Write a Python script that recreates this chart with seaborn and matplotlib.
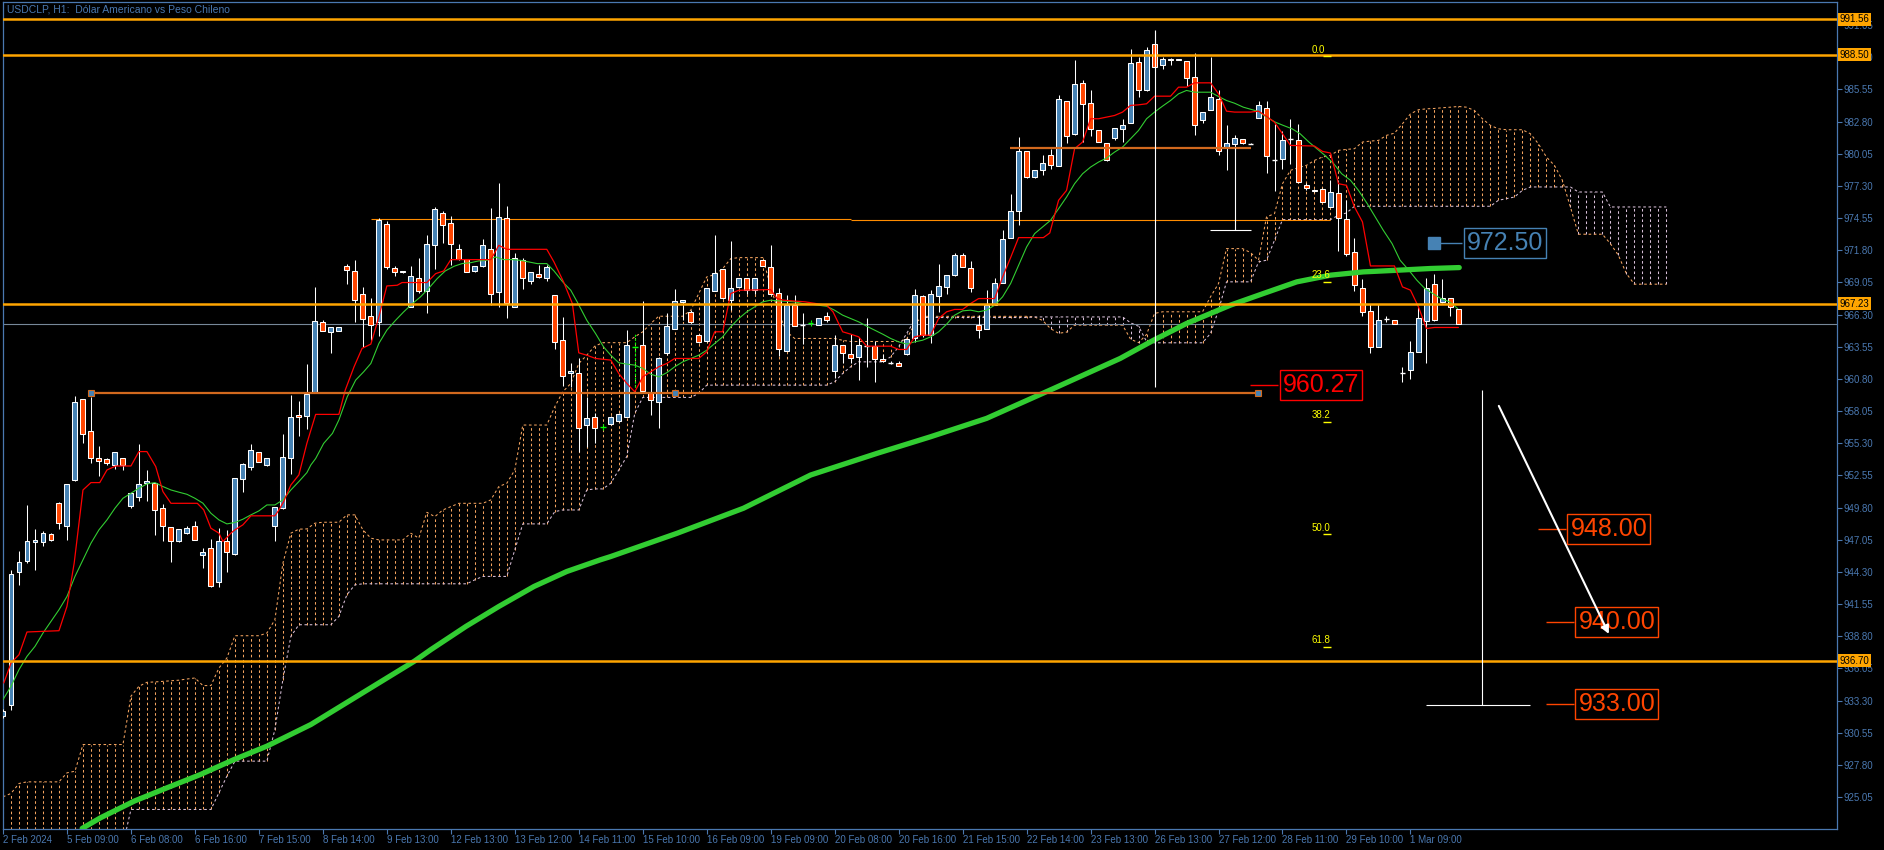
import numpy as np
import matplotlib
matplotlib.use('Agg')
import matplotlib.pyplot as plt
import seaborn as sns
from matplotlib.patches import Rectangle

# ---------------------------------------------------------
# DATA  (USDCLP H1, bar index 0 = 2 Feb 2024)
# ---------------------------------------------------------
opens = [932.0, 932.9, 944.29, 945.2, 946.85, 946.85, 947.53, 950.17, 948.27, 952.14,
         959.05, 956.35, 954.02, 953.93, 953.48, 954.02, 949.98, 950.74, 951.94, 951.94,
         949.81, 948.18, 946.93, 947.6, 948.27, 945.71, 946.33, 943.43, 946.99, 945.82,
         952.22, 953.31, 954.53, 953.48, 948.27, 949.81, 954.02, 957.69, 957.66, 959.65,
         965.68, 964.77, 964.94, 970.49, 970.06, 968.1, 966.22, 965.68, 974.07, 970.32,
         969.9, 966.96, 969.46, 968.35, 972.28, 975.01, 974.16, 971.94, 971.08, 970.03,
         970.46, 971.94, 968.27, 974.53, 966.99, 971.0, 969.21, 969.8, 969.46, 968.01,
         964.17, 961.27, 961.35, 956.83, 957.51, 956.69, 956.94, 957.23, 957.51, 963.55,
         963.74, 959.56, 958.8, 962.98, 965.11, 967.39, 966.48, 964.54, 964.06, 968.35,
         970.23, 967.59, 968.67, 969.46, 968.38, 971.0, 970.37, 968.15, 963.23, 967.16,
         965.43, 965.54, 965.45, 966.16, 961.5, 963.74, 962.95, 962.69, 963.6, 963.63,
         962.52, 962.2, 962.15, 962.89, 964.31, 967.93, 964.54, 967.87, 968.67, 969.67,
         971.43, 970.32, 965.4, 965.03, 967.16, 968.96, 972.88, 975.16, 980.25, 978.06,
         978.63, 979.96, 979.0, 984.52, 981.76, 986.11, 984.4, 982.1, 980.99, 981.42,
         982.18, 982.7, 987.93, 985.46, 989.44, 987.65, 988.16, 988.16, 987.99, 986.59,
         982.9, 983.75, 984.69, 980.62, 980.85, 981.27, 980.92, 983.12, 983.98, 979.48,
         979.62, 981.27, 981.19, 977.4, 976.98, 977.0, 975.5, 976.72, 974.5, 971.66,
         968.61, 966.59, 963.49, 965.91, 965.83, 961.27, 961.56, 963.12, 965.77, 968.9,
         967.39, 967.76, 966.82]
highs = [932.6, 944.43, 946.11, 950.03, 948.01, 947.76, 947.6, 950.32, 951.8, 959.34,
         959.05, 959.28, 955.07, 954.02, 954.59, 954.02, 951.06, 955.21, 953.02, 951.94,
         950.12, 948.18, 948.01, 948.24, 948.67, 946.33, 947.1, 948.04, 947.9, 952.31,
         953.59, 955.21, 954.53, 954.02, 949.84, 956.1, 959.42, 958.94, 962.07, 968.67,
         965.88, 965.2, 965.25, 970.66, 971.0, 968.67, 967.7, 974.55, 974.27, 970.43,
         970.06, 970.49, 971.17, 973.08, 975.49, 975.12, 974.75, 972.36, 971.08, 970.49,
         972.79, 975.44, 977.57, 975.55, 971.6, 971.17, 969.97, 970.52, 970.52, 968.01,
         966.1, 962.12, 962.55, 959.28, 957.86, 957.0, 957.6, 957.86, 964.97, 964.63,
         967.44, 961.55, 962.69, 966.45, 968.47, 967.5, 966.68, 964.68, 968.61, 973.08,
         970.23, 972.56, 969.46, 969.46, 969.46, 971.0, 972.28, 968.61, 968.01, 968.01,
         966.45, 965.8, 966.05, 966.48, 964.54, 963.74, 964.6, 964.4, 966.02, 964.03,
         962.89, 962.3, 962.32, 964.2, 968.47, 968.01, 968.39, 970.6, 969.67, 971.6,
         971.6, 970.89, 966.25, 968.44, 969.47, 973.51, 976.58, 981.47, 980.25, 978.68,
         979.96, 980.42, 985.11, 984.6, 988.1, 986.37, 985.54, 982.1, 981.0, 982.27,
         982.98, 989.01, 988.3, 989.21, 990.58, 988.3, 988.24, 988.16, 987.99, 988.64,
         983.61, 988.3, 985.54, 982.53, 981.62, 981.27, 980.99, 984.55, 984.55, 982.61,
         981.96, 983.04, 982.61, 977.55, 977.0, 977.15, 977.78, 977.78, 976.07, 972.88,
         969.38, 967.19, 967.19, 966.2, 965.83, 961.84, 964.03, 966.96, 969.47, 969.81,
         969.33, 967.76, 966.82]
lows = [931.8, 932.48, 943.21, 945.05, 944.49, 946.48, 946.95, 947.99, 947.05, 952.1,
        955.3, 953.59, 952.54, 953.45, 953.08, 953.02, 949.81, 950.4, 950.4, 947.42,
        946.99, 945.11, 946.9, 947.56, 947.0, 944.63, 942.98, 942.98, 944.29, 945.71,
        951.12, 953.02, 953.68, 953.39, 946.99, 949.69, 952.68, 955.95, 956.52, 959.6,
        964.9, 962.98, 964.9, 968.95, 965.68, 963.54, 964.11, 964.48, 970.2, 969.58,
        969.84, 966.96, 968.15, 966.45, 970.2, 972.42, 970.52, 970.94, 969.92, 969.92,
        970.4, 967.13, 966.96, 966.02, 966.99, 968.5, 968.92, 969.43, 969.21, 963.32,
        960.19, 960.13, 954.58, 955.01, 955.3, 956.4, 956.83, 957.14, 957.51, 960.13,
        959.79, 957.71, 956.57, 962.86, 965.11, 965.82, 965.59, 963.83, 963.97, 968.35,
        967.67, 966.67, 968.61, 968.1, 968.1, 970.43, 967.95, 962.78, 963.23, 965.31,
        963.77, 965.3, 965.45, 965.68, 960.9, 962.12, 962.12, 960.7, 961.84, 960.56,
        962.26, 962.1, 961.87, 962.83, 963.94, 964.4, 963.83, 966.54, 968.1, 969.58,
        970.38, 968.24, 964.26, 965.03, 967.16, 968.96, 972.88, 973.99, 977.97, 977.97,
        978.2, 978.71, 979.0, 980.96, 981.62, 981.05, 981.56, 981.05, 979.45, 981.25,
        981.05, 982.7, 984.89, 985.37, 987.5, 987.3, 987.65, 988.02, 985.88, 981.62,
        982.67, 983.75, 979.91, 978.66, 980.6, 980.9, 980.85, 983.12, 978.4, 976.86,
        978.77, 979.2, 977.63, 976.92, 976.8, 975.93, 975.5, 971.74, 971.29, 968.33,
        966.2, 963.04, 963.49, 965.63, 965.46, 960.56, 960.76, 963.12, 962.18, 965.77,
        967.3, 966.2, 965.48]
closes = [932.4, 944.12, 945.14, 946.93, 947.02, 947.6, 947.02, 948.47, 951.8, 958.8,
          956.07, 954.07, 953.79, 953.59, 954.53, 953.48, 951.06, 951.8, 952.11, 949.58,
          948.27, 946.93, 948.01, 948.04, 947.02, 945.99, 943.06, 946.93, 945.99, 952.31,
          953.53, 954.73, 953.73, 954.02, 949.84, 954.16, 957.57, 957.52, 959.51, 965.76,
          964.94, 965.2, 965.2, 970.15, 967.58, 965.96, 965.37, 974.35, 970.37, 969.95,
          970.0, 969.63, 968.35, 972.36, 975.35, 973.99, 972.36, 971.03, 969.97, 970.49,
          972.28, 968.1, 974.64, 967.3, 971.17, 969.43, 969.97, 969.55, 970.4, 963.97,
          961.07, 961.52, 956.63, 957.43, 956.63, 956.69, 957.51, 957.77, 963.66, 963.55,
          959.79, 959.0, 962.55, 965.31, 967.5, 967.5, 965.68, 963.97, 968.61, 969.89,
          967.76, 968.61, 969.46, 968.38, 969.46, 970.43, 968.1, 963.32, 967.16, 965.31,
          965.43, 965.54, 966.05, 965.82, 963.74, 962.98, 962.55, 963.69, 963.6, 962.49,
          962.32, 962.2, 961.87, 964.2, 968.01, 964.54, 968.04, 968.73, 969.67, 971.37,
          970.38, 968.59, 964.97, 967.16, 969.04, 972.8, 975.16, 980.25, 978.06, 978.68,
          979.28, 979.11, 984.74, 981.56, 986.02, 984.32, 982.18, 981.05, 979.54, 982.27,
          982.53, 987.82, 985.51, 988.93, 987.5, 988.16, 988.02, 988.02, 986.54, 982.53,
          983.61, 984.89, 980.25, 980.96, 981.42, 980.99, 980.92, 984.18, 979.85, 979.48,
          981.25, 981.27, 977.63, 977.15, 976.84, 975.93, 976.81, 974.59, 971.52, 968.81,
          966.54, 963.55, 965.83, 965.91, 965.46, 961.27, 963.07, 965.97, 968.61, 965.83,
          967.76, 966.96, 965.48]
green_doji = [75, 79, 101]

# Ichimoku cloud (shifted 26 bars forward)
span_a = [925.08, 925.37, 926.22, 926.36, 926.36, 926.36, 926.36, 926.36, 927.13, 927.27,
          929.55, 929.55, 929.55, 929.55, 929.55, 929.55, 933.68, 934.53, 934.87, 934.90,
          934.95, 935.00, 935.05, 935.15, 935.24, 934.59, 934.59, 936.09, 936.95, 938.85,
          938.85, 938.85, 938.85, 939.08, 940.22, 945.05, 947.62, 947.96, 947.98, 948.47,
          948.55, 948.55, 948.55, 949.18, 949.18, 947.90, 947.19, 947.04, 947.04, 947.04,
          947.04, 947.61, 947.19, 949.40, 949.03, 949.60, 949.89, 950.17, 950.17, 950.17,
          950.17, 950.46, 951.60, 951.88, 953.02, 956.86, 956.86, 956.86, 956.86, 958.42,
          959.70, 960.41, 962.12, 962.83, 963.60, 963.90, 963.90, 963.90, 963.90, 964.40,
          964.83, 965.54, 966.16, 966.16, 966.16, 966.16, 966.67, 968.10, 969.52, 969.72,
          970.23, 971.08, 971.17, 971.17, 971.17, 971.17, 968.67, 966.39, 964.83, 964.26,
          964.26, 964.26, 964.26, 964.26, 964.26, 964.10, 964.00, 964.00, 964.00, 964.00,
          964.00, 964.00, 964.00, 964.20, 965.50, 966.15, 966.15, 966.15, 966.15, 966.15,
          966.15, 966.15, 966.15, 966.15, 966.15, 966.15, 966.15, 966.15, 966.15, 966.10,
          965.80, 965.10, 964.70, 964.80, 965.40, 965.40, 965.40, 965.40, 965.40, 965.40,
          965.40, 964.20, 963.90, 964.60, 966.40, 966.54, 966.54, 966.54, 966.54, 966.54,
          966.54, 967.82, 968.95, 971.94, 971.94, 971.94, 971.60, 970.95, 974.65, 974.93,
          977.49, 978.63, 978.86, 979.06, 979.48, 979.77, 979.91, 980.34, 980.42, 980.48,
          981.05, 981.13, 981.19, 981.62, 981.81, 982.61, 983.46, 983.81, 983.89, 983.92,
          983.98, 984.03, 984.09, 984.03, 983.75, 983.04, 982.47, 982.18, 982.10, 982.10,
          982.10, 981.76, 980.90, 979.77, 979.06, 977.78, 975.50, 973.17, 973.17, 973.17,
          973.17, 972.37, 971.37, 969.81, 968.90, 968.90, 968.90, 968.90, 968.90]
span_b = [921.00, 921.00, 921.00, 921.00, 921.00, 921.00, 921.00, 921.00, 921.00, 921.00,
          921.00, 921.00, 921.00, 921.00, 921.00, 921.00, 924.00, 924.00, 924.00, 924.00,
          924.00, 924.00, 924.00, 924.00, 924.00, 924.00, 924.00, 925.42, 926.85, 928.13,
          928.13, 928.13, 928.13, 928.13, 930.83, 935.10, 938.80, 939.79, 939.79, 939.79,
          939.79, 939.79, 940.50, 942.35, 943.20, 943.29, 943.29, 943.29, 943.29, 943.29,
          943.29, 943.29, 943.29, 943.29, 943.29, 943.29, 943.29, 943.29, 943.29, 943.63,
          943.92, 943.92, 943.92, 943.92, 946.19, 948.41, 948.41, 948.41, 948.41, 949.46,
          949.60, 949.60, 949.60, 951.31, 951.40, 951.40, 951.88, 953.02, 954.16, 957.85,
          959.22, 959.22, 959.22, 959.22, 959.22, 959.22, 959.22, 959.56, 960.27, 960.27,
          960.27, 960.27, 960.27, 960.27, 960.27, 960.27, 960.27, 960.27, 960.27, 960.27,
          960.27, 960.27, 960.27, 960.27, 960.56, 961.27, 961.84, 962.26, 962.26, 962.26,
          962.26, 962.69, 963.55, 964.69, 965.82, 966.05, 966.05, 966.05, 966.05, 966.05,
          966.05, 966.05, 966.05, 966.05, 966.05, 966.05, 966.05, 966.05, 966.05, 966.10,
          966.10, 966.10, 966.10, 966.10, 966.10, 966.10, 966.10, 966.10, 966.10, 966.10,
          966.10, 965.60, 965.30, 964.00, 963.89, 963.89, 963.89, 963.89, 963.89, 963.89,
          963.89, 964.69, 966.68, 969.10, 969.10, 969.10, 969.10, 970.80, 970.95, 972.65,
          974.42, 974.42, 974.42, 974.42, 974.42, 974.42, 974.42, 974.79, 974.99, 975.56,
          975.56, 975.56, 975.56, 975.56, 975.56, 975.56, 975.56, 975.56, 975.56, 975.56,
          975.56, 975.56, 975.56, 975.56, 975.56, 975.56, 975.56, 976.07, 976.21, 976.35,
          976.92, 977.21, 977.21, 977.21, 977.21, 977.21, 977.21, 976.78, 976.78, 976.78,
          976.78, 975.50, 975.50, 975.50, 975.50, 975.50, 975.50, 975.50, 975.50]

# Tenkan-sen (red), read at its corners
tenkan_x = [0.1, 1, 2, 3, 7, 8, 8.9, 10, 11, 12.1, 13, 14.1, 16, 17, 18, 19.1, 20, 21, 24.3, 25.1,
            26, 27, 27.5, 28.5, 29, 30, 31, 34, 34.5, 35.1, 36, 37, 38, 39.1, 42, 42.8, 43.9, 44.9,
            46, 47, 48, 49.3, 49.9, 53, 54.1, 55.1, 56, 61, 62, 63, 68, 68.9, 70.1, 71.2, 72, 73,
            74.1, 76, 77, 78, 79, 80, 81, 82, 83, 84, 87, 88, 89, 90, 91, 92, 96, 96.8, 97.6,
            100.3, 103, 103.8, 105, 106, 107, 108, 111, 112, 113, 114, 115, 116, 117, 118, 119,
            120, 121, 122, 124, 125, 126, 127, 130.1, 130.9, 132, 133, 134, 135, 136, 137, 138,
            139, 140, 141, 142, 143, 144, 146, 147, 148, 149, 151, 152, 153, 154, 156, 157, 158,
            159, 160, 161, 164, 165, 166, 167, 168, 169, 170, 171, 174, 175, 176, 177, 178, 179, 182]
tenkan_y = [934.81, 936.52, 937.23, 939.17, 939.28, 941.36, 945.05, 951.31, 951.94, 951.94,
            953.02, 953.36, 953.36, 954.59, 954.59, 953.31, 951.17, 950.17, 950.17, 949.61,
            948.04, 947.62, 946.9, 947.62, 947.9, 948.33, 949.1, 949.1, 949.6, 950.32, 951.74,
            952.6, 955.3, 957.77, 957.77, 959.85, 961.84, 963.41, 963.78, 966.1, 968.75, 968.81,
            969.04, 969.04, 969.8, 970.03, 971.0, 971.0, 972.22, 971.88, 971.88, 970.8, 969.09,
            967.24, 963.03, 962.83, 962.55, 962.41, 961.27, 960.42, 959.7, 960.98, 961.41,
            961.84, 962.12, 962.55, 962.55, 963.12, 964.83, 964.83, 968.1, 968.38, 968.44,
            967.67, 967.53, 967.39, 967.1, 966.53, 964.83, 964.63, 964.4, 963.6, 963.6, 963.32,
            963.32, 964.4, 964.54, 964.54, 965.97, 966.54, 966.74, 966.74, 967.25, 967.67,
            967.67, 969.52, 971.17, 972.88, 972.88, 973.28, 976.07, 976.92, 980.48, 981.05,
            983.04, 983.04, 983.18, 983.32, 983.61, 984.18, 984.23, 984.32, 984.97, 984.97,
            985.74, 985.74, 986.11, 986.11, 985.17, 983.69, 983.61, 983.61, 983.69, 983.24,
            982.75, 981.76, 980.76, 980.71, 980.25, 980.11, 977.49, 977.35, 975.5, 974.22,
            970.46, 970.46, 968.67, 968.39, 966.96, 965.11, 965.2, 965.2]

# fast moving average (thin green)
ma_x = list(range(39)) + [38.5, 39.1, 40.1, 41.2, 42.0, 43.05, 44.1, 45.1, 46.0, 47.0, 48.0,
        49.1, 50.1, 51.2, 52.2, 53.2, 54.3, 55.3, 56.4, 57.4, 58.5, 59.5, 60.5, 61.6, 62.6,
        63.7, 64.7, 65.75, 66.8, 68.0, 68.9, 70.0, 71.0, 71.8, 73.0, 74.1, 75.1] \
    + list(range(76, 155)) + [155.1, 157, 158, 159.1, 160.1, 161.2, 162.2, 163.3, 164.3, 165.3,
        166.4, 167.4, 168.5, 169.5, 170.6, 171.6, 172.6, 173.7, 174.7, 175.8, 176.8, 177.8,
        178.8, 179.8, 180.9, 181.9]
ma_y = [933.39, 934.53, 935.95, 937.09, 937.94, 939.08, 940.08, 941.07, 942.21, 943.92,
        945.34, 946.76, 947.9, 948.75, 949.75, 950.6, 951.03, 951.46, 951.83, 951.94,
        951.6, 951.31, 951.12, 950.94, 950.6, 950.18, 949.32, 948.75, 948.41, 948.53,
        948.81, 949.18, 949.52, 950.03, 950.03, 950.46, 951.31, 952.03, 952.79,
        953.45, 954.0, 955.29, 956.15, 957.29, 959.28, 960.7, 961.41, 962.12, 963.83, 964.97,
        965.82, 966.53, 967.24, 967.81, 968.52, 969.38, 970.03, 970.43, 970.66, 970.74,
        970.89, 970.94, 971.23, 971.0, 971.0, 970.94, 970.8, 970.66, 970.66, 970.03, 969.09,
        968.38, 967.39, 965.82, 964.68, 963.54,
        962.83, 962.18, 962.07, 961.98, 961.7, 961.21, 960.98, 961.33, 961.84, 962.26,
        962.55, 962.83, 963.26, 963.83, 964.4, 965.25, 965.96, 966.53, 966.96, 967.39,
        967.53, 967.47, 967.44, 967.39, 967.24, 967.19, 967.1, 967.01, 966.67, 966.25,
        965.96, 965.68, 965.31, 964.97, 964.63, 964.26, 963.97, 963.78, 963.97, 964.11,
        964.4, 964.83, 965.48, 966.25, 966.62, 966.68, 966.54, 966.68, 967.1, 967.82,
        968.95, 970.52, 972.08, 973.22, 973.79, 974.36, 975.36, 976.35, 977.49, 978.34,
        978.91, 979.34, 979.68, 980.19, 980.62, 981.33, 982.04, 983.04, 983.61, 984.12,
        984.6, 985.17, 985.46, 985.31, 985.31, 985.31, 984.94, 984.6, 984.37,
        984.03, 983.66, 983.18, 982.75, 982.47, 982.18, 981.76, 981.05, 980.48, 979.91,
        979.2, 978.34, 977.78, 976.92, 975.78, 974.65, 973.51, 972.37, 970.95, 970.09,
        969.24, 968.53, 968.1, 967.67, 967.39, 966.82]

# slow moving average (thick green)
sma_x = [9.9, 12.2, 16.4, 20.5, 24.7, 28.9, 33, 38.5, 51.5, 53.5, 57.9, 62, 66.4, 70.5, 74.7,
         76, 84.3, 92.6, 101, 109.3, 116, 123, 131.4, 139.7, 143.9, 148, 153.5, 157.6, 161.8,
         166, 170.1, 174.3, 178.5, 182.1]
sma_y = [922.38, 923.29, 924.71, 925.85, 926.99, 928.27, 929.41, 931.26, 936.7, 937.66,
         939.65, 941.35, 943.06, 944.34, 945.34, 945.62, 947.61, 949.75, 952.59, 954.44,
         955.86, 957.43, 959.99, 962.55, 964.12, 965.54, 967.11, 968.1, 969.1, 969.67,
         969.95, 970.09, 970.24, 970.32]

levels = [991.56, 988.50, 967.23, 936.70]
bid = 965.48
fib_names = ['0.0', '23.6', '38.2', '50.0', '61.8']
fib_values = [988.37, 969.09, 957.15, 947.52, 937.88]
targets = ['948.00', '940.00', '933.00']
target_values = [948.00, 940.00, 933.00]

tick_bars = list(range(0, 177, 8))
tick_labels = ['2 Feb 2024', '5 Feb 09:00', '6 Feb 08:00', '6 Feb 16:00', '7 Feb 15:00',
               '8 Feb 14:00', '9 Feb 13:00', '12 Feb 13:00', '13 Feb 12:00', '14 Feb 11:00',
               '15 Feb 10:00', '16 Feb 09:00', '19 Feb 09:00', '20 Feb 08:00', '20 Feb 16:00',
               '21 Feb 15:00', '22 Feb 14:00', '23 Feb 13:00', '26 Feb 13:00', '27 Feb 12:00',
               '28 Feb 11:00', '29 Feb 10:00', '1 Mar 09:00']
yticks = [925.05, 927.80, 930.55, 933.30, 936.05, 938.80, 941.55, 944.30, 947.05, 949.80,
          952.55, 955.30, 958.05, 960.80, 963.55, 966.30, 969.05, 971.80, 974.55, 977.30,
          980.05, 982.80, 985.55, 988.30, 991.05]

# ---------------------------------------------------------
# STYLE
# ---------------------------------------------------------
sns.set_theme(style='ticks', rc={'axes.facecolor': 'black', 'figure.facecolor': 'black',
                                 'axes.grid': False})
plt.rcParams['font.family'] = ['Liberation Sans', 'DejaVu Sans']
AX = '#4a78b0'
BULL = '#4682B4'
BEAR = '#FF4500'
SANDY = '#F4A460'
THISTLE = '#D8BFD8'

fig = plt.figure(figsize=(18.84, 8.5), dpi=100)
ax = fig.add_axes([3 / 1884, 21 / 850, 1834 / 1884, 827 / 850])
ax.set_facecolor('black')

# ---------------------------------------------------------
# ICHIMOKU CLOUD
# ---------------------------------------------------------
sa = np.array(span_a)
sb = np.array(span_b)
kk = np.arange(len(sa))
up = sa >= sb
ax.vlines(kk[up], sb[up], sa[up], colors=SANDY, linestyles=(0, (2.5, 2.5)), lw=0.75, zorder=1)
ax.vlines(kk[~up], sa[~up], sb[~up], colors=THISTLE, linestyles=(0, (2.5, 2.5)), lw=0.75, zorder=1)
ax.plot(kk, sa, color=SANDY, ls=(0, (2.5, 2.5)), lw=0.75, zorder=1)
ax.plot(kk, sb, color=THISTLE, ls=(0, (2.5, 2.5)), lw=0.75, zorder=1)

# ---------------------------------------------------------
# CANDLES
# ---------------------------------------------------------
for i, (o, h, l, c) in enumerate(zip(opens, highs, lows, closes)):
    if i in green_doji:
        ax.vlines(i, l, h, color='lime', lw=0.8, linestyles=(0, (2, 1.5)), zorder=3)
        ax.hlines(c, i - 0.35, i + 0.35, color='lime', lw=1, zorder=3)
        continue
    ax.vlines(i, l, h, color='white', lw=0.75, zorder=3)
    if o == c:
        ax.hlines(c, i - 0.35, i + 0.35, color='white', lw=1, zorder=3)
        continue
    fc = BULL if c > o else BEAR
    body = max(abs(c - o), 0.15)
    ax.add_patch(Rectangle((i - 0.31, min(o, c)), 0.62, body, facecolor=fc,
                           edgecolor='white', lw=0.75, zorder=3.5))

# ---------------------------------------------------------
# INDICATOR LINES
# ---------------------------------------------------------
sns.lineplot(x=sma_x, y=sma_y, ax=ax, color='#32CD32', linewidth=3.8, estimator=None, zorder=4)
sns.lineplot(x=ma_x, y=ma_y, ax=ax, color='#32CD32', linewidth=0.8, estimator=None, zorder=4.5)
sns.lineplot(x=tenkan_x, y=tenkan_y, ax=ax, color='red', linewidth=0.9, estimator=None, zorder=4.6)

# ---------------------------------------------------------
# OBJECTS DRAWN ON THE CHART
# ---------------------------------------------------------
ax.axhline(bid, color='#778899', lw=0.8, zorder=2)
for v in levels:
    ax.axhline(v, color='#FFA500', lw=1.8, zorder=5)
    ax.text(1.0015, v, f'{v:.2f}', transform=ax.get_yaxis_transform(), ha='left', va='center',
            fontsize=7, color='black', clip_on=False, zorder=10,
            bbox=dict(boxstyle='square,pad=0.15', fc='#FFA500', ec='none'))

ax.hlines(974.50, 45.96, 106.05, color='#FF8C00', lw=0.8, zorder=2)
ax.hlines(974.42, 106.05, 165.96, color='#FF8C00', lw=0.8, zorder=2)
ax.hlines(980.53, 125.96, 156.05, color='#D2691E', lw=1.6, zorder=5)
ax.hlines(959.6, 11.0, 156.96, color='#D2691E', lw=1.6, zorder=5)
ax.plot([11.0, 84.0, 156.96], [959.6, 959.6, 959.6], ls='none', marker='s', ms=4.5,
        mfc=BULL, mec='#D2691E', mew=0.8, zorder=6)

# white measuring lines
ax.vlines(144.05, 960.13, 990.6, color='white', lw=0.8, zorder=5)
ax.vlines(154.0, 973.5, 980.5, color='white', lw=0.8, zorder=5)
ax.hlines(973.5, 150.96, 156.0, color='white', lw=0.8, zorder=5)
ax.vlines(185.0, 932.94, 959.87, color='white', lw=0.8, zorder=5)
ax.hlines(932.94, 177.96, 190.96, color='white', lw=0.8, zorder=5)
ax.annotate('', xy=(200.96, 938.79), xytext=(186.9, 958.71),
            arrowprops=dict(arrowstyle='-|>', color='white', lw=1.5, mutation_scale=12), zorder=7)

# fibonacci levels
for name, v in zip(fib_names, fib_values):
    ax.text(163.6, v + 0.15, name, color='yellow', fontsize=7, ha='left', va='bottom', zorder=6)
    ax.hlines(v, 165.1, 166.05, color='yellow', lw=1, zorder=6)

# price boxes
ax.hlines(960.27, 155.96, 159.5, color='red', lw=1, zorder=6)
ax.text(164.84, 960.27, '960.27', color='red', fontsize=18, ha='center', va='center', zorder=8,
        bbox=dict(boxstyle='square,pad=0.12', fc='black', ec='red', lw=1))
ax.plot(179.0, 972.46, marker='s', ms=8, color=BULL, zorder=7)
ax.hlines(972.46, 179.0, 182.5, color=BULL, lw=1, zorder=6)
ax.text(187.8, 972.46, '972.50', color=BULL, fontsize=18, ha='center', va='center', zorder=8,
        bbox=dict(boxstyle='square,pad=0.12', fc='black', ec=BULL, lw=1))
for lab, v, x0, xb, xc in zip(targets, target_values, [191.96, 192.96, 192.96],
                              [195.46, 196.5, 196.5], [200.8, 201.8, 201.8]):
    ax.hlines(v, x0, xb, color=BEAR, lw=1, zorder=6)
    ax.text(xc, v, lab, color=BEAR, fontsize=18, ha='center', va='center', zorder=6.5,
            bbox=dict(boxstyle='square,pad=0.12', fc='black', ec=BEAR, lw=1))

# ---------------------------------------------------------
# AXES
# ---------------------------------------------------------
ax.set_xlim(0.0875, 229.34)
ax.set_ylim(922.33, 993.02)
ax.yaxis.tick_right()
ax.set_yticks(yticks)
ax.set_yticklabels([f'{v:.2f}' for v in yticks])
ax.set_xticks(tick_bars)
ax.set_xticklabels(tick_labels, ha='left')
ax.tick_params(axis='y', direction='out', length=3.5, width=0.8, color=AX, labelcolor=AX,
               labelsize=7, pad=1)
ax.tick_params(axis='x', direction='out', length=3.5, width=0.8, color=AX, labelcolor=AX,
               labelsize=7, pad=1)
for s in ax.spines.values():
    s.set_color(AX)
    s.set_linewidth(0.9)
ax.set_xlabel('')
ax.set_ylabel('')

fig.text(7 / 1884, 1 - 10 / 850, 'USDCLP, H1:  Dólar Americano vs Peso Chileno', color=AX,
         fontsize=7.5, ha='left', va='center')

fig.savefig('out.png', dpi=100, facecolor='black')
print(len(opens), len(highs), len(lows), len(closes), len(span_a), len(span_b),
      len(tenkan_x), len(tenkan_y), len(ma_x), len(ma_y))
